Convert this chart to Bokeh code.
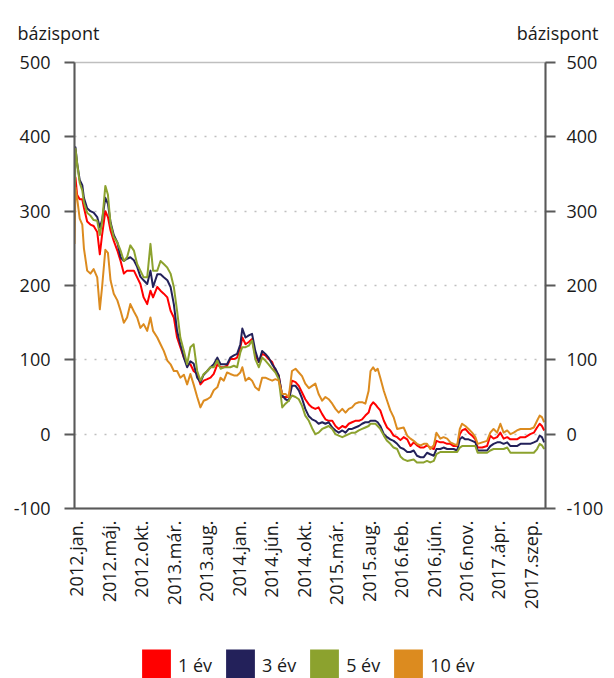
import math
from bokeh.plotting import figure
from bokeh.layouts import column
from bokeh.models import (Range1d, LinearAxis, FixedTicker, Label, Legend,
                          LegendItem, ColumnDataSource)
from bokeh.embed import file_html
from bokeh.resources import INLINE
from bokeh.core.properties import value

# observation index (trading days from 2012 Jan)
obs = [0, 3, 8, 16, 24, 29, 39, 49, 59, 70, 78, 85, 95, 103, 111, 121, 132, 142, 152, 162,
       172, 183, 193, 203, 213, 224, 234, 242, 255, 265, 275, 286, 296, 306, 316, 326, 337, 347, 357, 367,
       378, 388, 398, 409, 419, 429, 440, 450, 460, 470, 480, 491, 501, 511, 517, 527, 537, 547, 557, 568,
       578, 588, 598, 609, 619, 629, 640, 650, 660, 670, 681, 691, 701, 711, 722, 732, 742, 752, 763, 773,
       783, 794, 804, 814, 825, 835, 845, 855, 865, 876, 886, 896, 906, 912, 920, 927, 934, 942, 953, 963,
       973, 983, 994, 1004, 1014, 1025, 1035, 1045, 1055, 1066, 1076, 1086, 1096, 1107, 1115, 1127, 1137, 1148, 1158, 1168,
       1179, 1187, 1194, 1204, 1214, 1225, 1235, 1242, 1256, 1271, 1281, 1291, 1302, 1312, 1322, 1333, 1343, 1353, 1363, 1374,
       1389, 1404, 1415, 1425, 1433, 1440, 1447]

ev1 = [348, 345, 322, 316, 316, 305, 286, 282, 280, 272, 242, 268, 300, 292, 274, 260, 247, 233, 216, 220,
       220, 220, 211, 202, 184, 175, 193, 184, 198, 193, 189, 184, 166, 157, 130, 117, 103, 94, 94, 85,
       81, 67, 72, 74, 76, 81, 94, 90, 90, 92, 101, 101, 103, 117, 130, 121, 124, 128, 106, 97,
       108, 106, 101, 97, 85, 79, 50, 50, 50, 72, 70, 65, 56, 47, 40, 36, 34, 36, 27, 20,
       18, 18, 11, 7, 11, 9, 14, 16, 18, 18, 20, 25, 29, 38, 43, 40, 36, 32, 18, 9,
       5, -2, -4, -8, -4, -7, -16, -11, -15, -18, -18, -15, -18, -20, -9, -11, -11, -13, -13, -16,
       -16, 0, 5, 7, 2, -2, -7, -18, -18, -16, -2, -6, -4, 2, -6, -4, -7, -7, -7, -4,
       -4, 0, 2, 9, 14, 11, 5]

ev3 = [312, 386, 365, 342, 335, 318, 304, 300, 298, 292, 278, 288, 318, 310, 285, 268, 258, 238, 233, 236,
       238, 234, 225, 212, 207, 202, 220, 198, 215, 215, 211, 207, 198, 175, 139, 121, 103, 90, 98, 95,
       76, 70, 80, 85, 90, 94, 103, 94, 94, 94, 103, 106, 108, 121, 142, 130, 133, 135, 112, 97,
       112, 108, 103, 94, 88, 79, 52, 47, 45, 65, 65, 59, 48, 34, 24, 20, 18, 14, 16, 14,
       16, 9, 5, 2, 5, 2, 7, 7, 9, 11, 14, 16, 16, 18, 18, 18, 16, 11, 0, -4,
       -7, -9, -13, -18, -20, -24, -24, -22, -29, -31, -31, -25, -27, -29, -20, -20, -18, -20, -20, -20,
       -22, -7, -4, -7, -7, -9, -11, -22, -22, -22, -16, -13, -11, -11, -13, -11, -16, -16, -16, -13,
       -13, -13, -11, -9, -2, -4, -11]

ev5 = [292, 384, 365, 338, 328, 312, 298, 294, 288, 287, 268, 285, 334, 322, 283, 265, 258, 247, 233, 238,
       254, 247, 229, 220, 211, 211, 256, 220, 220, 233, 229, 224, 216, 198, 166, 130, 112, 94, 117, 121,
       85, 72, 81, 85, 90, 90, 99, 88, 90, 90, 90, 92, 90, 110, 117, 117, 119, 126, 101, 90,
       103, 99, 94, 88, 83, 74, 36, 41, 45, 52, 50, 47, 38, 25, 18, 8, 0, 2, 7, 9,
       11, 7, 0, -2, -4, -2, 0, 2, 2, 5, 7, 9, 11, 14, 14, 14, 11, 7, -2, -9,
       -13, -18, -20, -30, -34, -36, -35, -34, -38, -38, -38, -36, -38, -36, -27, -24, -24, -24, -24, -24,
       -24, -18, -16, -16, -16, -16, -16, -25, -25, -25, -22, -20, -20, -20, -20, -18, -25, -25, -25, -25,
       -25, -25, -25, -20, -13, -15, -20]

ev10 = [256, 332, 318, 290, 282, 250, 220, 216, 222, 211, 168, 198, 248, 244, 207, 189, 180, 166, 150, 157,
        175, 165, 157, 143, 148, 139, 157, 139, 130, 121, 112, 99, 94, 85, 85, 76, 80, 67, 81, 67,
        50, 36, 45, 47, 50, 59, 63, 76, 72, 83, 81, 79, 79, 83, 90, 72, 76, 72, 63, 59,
        76, 76, 74, 72, 74, 72, 54, 54, 50, 85, 88, 83, 78, 68, 62, 65, 68, 54, 45, 50,
        47, 41, 34, 29, 34, 29, 34, 36, 41, 43, 43, 41, 58, 85, 90, 85, 88, 76, 58, 45,
        32, 23, 7, 8, 9, -2, -6, -9, -13, -15, -13, -13, -20, -15, 2, -6, -4, -6, -11, -13,
        -15, 7, 14, 11, 7, 2, -4, -13, -11, -9, 2, 7, 2, 14, 2, 5, 0, 2, 5, 7,
        7, 7, 9, 18, 25, 23, 16]

series_names = ["1 év", "3 év", "5 év", "10 év"]
series_values = [ev1, ev3, ev5, ev10]
series_colors = ["#FF0000", "#23215A", "#8CA22E", "#DC8B1F"]

tick_obs = [6, 106, 206, 306, 406, 506, 606, 706, 806, 906, 1006, 1106, 1206, 1306, 1406]
tick_labels = ["2012.jan.", "2012.máj.", "2012.okt.", "2013.már.", "2013.aug.",
               "2014.jan.", "2014.jún.", "2014.okt.", "2015.már.", "2015.aug.",
               "2016.feb.", "2016.jún.", "2016.nov.", "2017.ápr.", "2017.szep."]
y_ticks = [-100, 0, 100, 200, 300, 400, 500]
y_tick_labels = ["-100", "0", "100", "200", "300", "400", "500"]
grid_ticks = [0, 100, 200, 300, 400]
unit_label = "bázispont"

FONT = "Open Sans"
AXIS_COLOR = "#595959"
TEXT_COLOR = "#1a1a1a"
W = 614


def bare_figure(height):
    f = figure(width=W, height=height, x_range=Range1d(0, 1), y_range=Range1d(0, 1),
               output_backend="svg", toolbar_location=None, title=None,
               x_axis_location=None, y_axis_location=None,
               min_border_left=0, min_border_right=0, min_border_top=0, min_border_bottom=0)
    f.grid.visible = False
    f.outline_line_color = None
    f.background_fill_color = "white"
    f.border_fill_color = "white"
    if "frame_align" in f.properties():
        f.frame_align = False
    return f


# ---- header with unit labels
header = bare_figure(48)
header.add_layout(Label(x=17, y=16, x_units="screen", y_units="screen", text=unit_label,
                        text_align="left", text_baseline="alphabetic", text_font=FONT,
                        text_font_size="18px", text_color=TEXT_COLOR))
header.add_layout(Label(x=598, y=16, x_units="screen", y_units="screen", text=unit_label,
                        text_align="right", text_baseline="alphabetic", text_font=FONT,
                        text_font_size="18px", text_color=TEXT_COLOR))

# ---- main chart
p = figure(width=W, height=582, x_range=Range1d(0, 1451), y_range=Range1d(-100, 500),
           output_backend="svg", toolbar_location=None, title=None,
           min_border_left=74, min_border_right=69, min_border_top=14, min_border_bottom=122)
p.background_fill_color = "white"
p.border_fill_color = "white"
p.outline_line_color = "#BFBFBF"
p.outline_line_width = 1.5

xa = p.xaxis[0]
xa.ticker = FixedTicker(ticks=tick_obs)
xa.major_label_overrides = {t: l for t, l in zip(tick_obs, tick_labels)}
xa.major_label_orientation = math.pi / 2
xa.major_tick_out = 0
xa.major_tick_in = 0
xa.minor_tick_out = 0
xa.minor_tick_in = 0
xa.major_label_standoff = 12
xa.axis_line_color = AXIS_COLOR
xa.axis_line_width = 2
xa.major_label_text_font = FONT
xa.major_label_text_font_size = "18px"
xa.major_label_text_color = TEXT_COLOR


def style_y(ax, standoff):
    ax.ticker = FixedTicker(ticks=y_ticks)
    ax.major_label_overrides = {t: l for t, l in zip(y_ticks, y_tick_labels)}
    ax.major_tick_out = 10
    ax.major_tick_in = 0
    ax.minor_tick_out = 0
    ax.minor_tick_in = 0
    ax.major_tick_line_color = AXIS_COLOR
    ax.major_tick_line_width = 2
    ax.axis_line_color = AXIS_COLOR
    ax.axis_line_width = 2
    ax.major_label_standoff = standoff
    ax.major_label_text_font = FONT
    ax.major_label_text_font_size = "18px"
    ax.major_label_text_color = TEXT_COLOR


style_y(p.yaxis[0], 14)
ya_r = LinearAxis()
style_y(ya_r, 11)
p.add_layout(ya_r, "right")

p.xgrid.visible = False
p.ygrid.ticker = FixedTicker(ticks=grid_ticks)
p.ygrid.grid_line_color = "#BFBFBF"
p.ygrid.grid_line_dash = "2 8"
p.ygrid.grid_line_width = 1.5

for vals, col in zip(series_values, series_colors):
    p.line(obs, vals, line_color=col, line_width=2, line_join="round")

# ---- legend strip with square swatches (swatch renderers are zero-area quads)
leg_fig = bare_figure(48)
items = []
for name, vals, col in zip(series_names, series_values, series_colors):
    src = ColumnDataSource(dict(left=[0], right=[0], top=[0], bottom=[0]))
    q = leg_fig.quad(left="left", right="right", top="top", bottom="bottom", source=src,
                     fill_color=col, line_color=None)
    items.append(LegendItem(label=value(name), renderers=[q]))

legend = Legend(items=items, orientation="horizontal", location=(138, -7),
                glyph_width=36, glyph_height=40, label_height=40, label_standoff=4,
                spacing=10, padding=0, margin=0, border_line_color=None,
                background_fill_alpha=0, label_text_font=FONT,
                label_text_font_size="18px", label_text_color=TEXT_COLOR)
leg_fig.add_layout(legend, "center")

layout = column(header, p, leg_fig, spacing=0)
open("out.html", "w").write(file_html(layout, INLINE))
